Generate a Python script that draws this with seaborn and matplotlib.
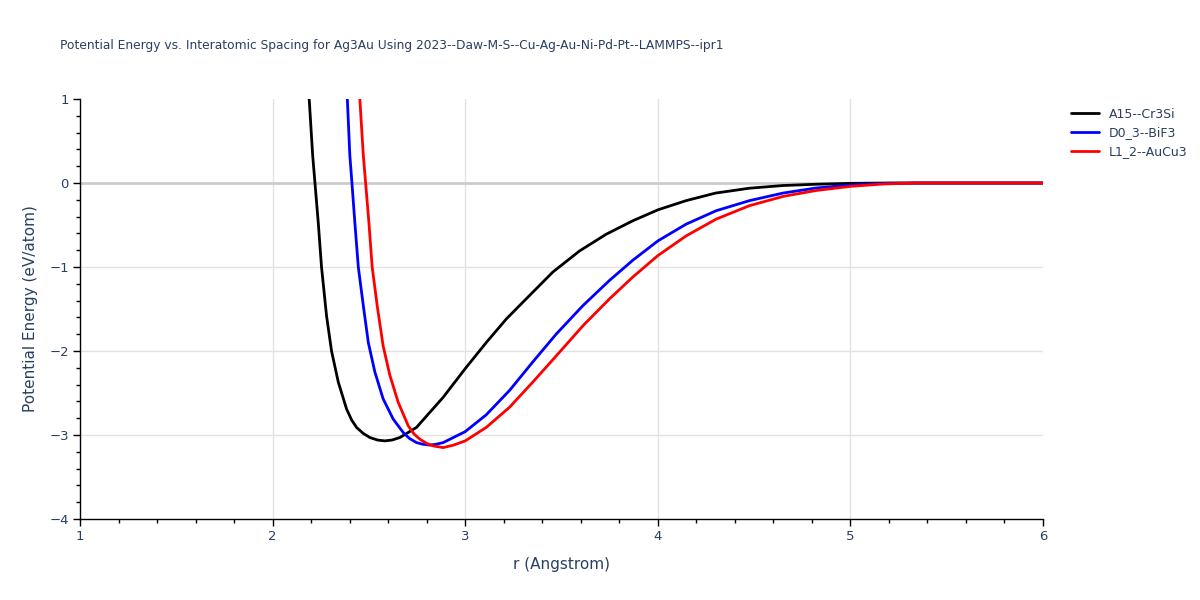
import numpy as np
import pandas as pd
import matplotlib
matplotlib.use("Agg")
import matplotlib.pyplot as plt
from matplotlib.ticker import MultipleLocator
import seaborn as sns

# Curvas (r em Angstrom, energia em eV/atom)
r_a15 = [2.19, 2.208, 2.22, 2.237, 2.254, 2.28, 2.306, 2.341, 2.384, 2.41, 2.436, 2.47, 2.505,
         2.545, 2.583, 2.62, 2.661, 2.747, 2.886, 3.0, 3.109, 3.213, 3.351, 3.455, 3.593,
         3.732, 3.87, 4.0, 4.147, 4.30, 4.476, 4.65, 4.82, 5.0, 5.2, 5.5, 6.0]
e_a15 = [1.0, 0.33, 0.0, -0.47, -1.0, -1.58, -2.0, -2.37, -2.69, -2.82, -2.91, -2.98, -3.03,
         -3.06, -3.07, -3.06, -3.03, -2.91, -2.55, -2.21, -1.90, -1.62, -1.30, -1.06, -0.81,
         -0.61, -0.45, -0.32, -0.21, -0.12, -0.062, -0.03, -0.015, -0.004, 0.0, 0.0, 0.0]

r_d03 = [2.388, 2.401, 2.412, 2.427, 2.445, 2.471, 2.497, 2.531, 2.574, 2.626,
         2.678, 2.71, 2.747, 2.78, 2.817, 2.85, 2.886, 3.0, 3.109, 3.23, 3.351, 3.472, 3.611,
         3.749, 3.87, 4.0, 4.147, 4.303, 4.476, 4.65, 4.82, 5.0, 5.17, 5.35, 5.6, 6.0]
e_d03 = [1.0, 0.33, 0.0, -0.47, -1.0, -1.46, -1.90, -2.25, -2.57, -2.81,
         -2.97, -3.04, -3.09, -3.11, -3.12, -3.11, -3.09, -2.96, -2.76, -2.47, -2.13, -1.80, -1.46,
         -1.16, -0.92, -0.69, -0.49, -0.33, -0.21, -0.12, -0.06, -0.024, -0.005, 0.0, 0.0, 0.0]

r_l12 = [2.453, 2.471, 2.483, 2.50, 2.517, 2.543, 2.574, 2.609, 2.652, 2.704,
         2.735, 2.765, 2.80, 2.834, 2.886, 2.94, 3.0, 3.109, 3.23, 3.351, 3.472, 3.611, 3.749,
         3.87, 4.0, 4.147, 4.303, 4.476, 4.65, 4.82, 5.0, 5.17, 5.34, 5.6, 6.0]
e_l12 = [1.0, 0.33, 0.0, -0.47, -1.0, -1.46, -1.94, -2.29, -2.61, -2.89,
         -2.99, -3.05, -3.10, -3.13, -3.15, -3.12, -3.07, -2.91, -2.67, -2.37, -2.06, -1.70, -1.38,
         -1.12, -0.865, -0.63, -0.43, -0.27, -0.16, -0.09, -0.04, -0.012, 0.0, 0.0, 0.0]

nomes = ["A15--Cr3Si", "D0_3--BiF3", "L1_2--AuCu3"]
cores = ["black", "blue", "red"]

x_ticks = [1, 2, 3, 4, 5, 6]
y_ticks = [-4, -3, -2, -1, 0, 1]
y_labels = ["\u22124", "\u22123", "\u22122", "\u22121", "0", "1"]

df = pd.concat([
    pd.DataFrame({"r": r_a15, "E": e_a15, "estrutura": nomes[0]}),
    pd.DataFrame({"r": r_d03, "E": e_d03, "estrutura": nomes[1]}),
    pd.DataFrame({"r": r_l12, "E": e_l12, "estrutura": nomes[2]}),
])

sns.set_style("white")
plt.rcParams["font.family"] = ["DejaVu Sans"]
texto = "#2a3f5f"

fig = plt.figure(figsize=(12, 6), dpi=100)
ax = fig.add_axes([80 / 1200, 1 - 519 / 600, 963 / 1200, 420 / 600])

# grade manual, sem linhas nas bordas x=6 e y=1
for xv in x_ticks[1:-1]:
    ax.axvline(xv, color="#e2e2e2", lw=1, zorder=0)
for yv in y_ticks[1:-1]:
    if yv != 0:
        ax.axhline(yv, color="#e2e2e2", lw=1, zorder=0)
ax.axhline(0, color="#cccccc", lw=2, zorder=1)

sns.lineplot(data=df, x="r", y="E", hue="estrutura", palette=cores,
             sort=False, estimator=None, lw=2, ax=ax, zorder=3)

ax.set_xlim(1, 6)
ax.set_ylim(-4, 1)
ax.set_xticks(x_ticks)
ax.set_yticks(y_ticks)
ax.set_yticklabels(y_labels)
ax.xaxis.set_minor_locator(MultipleLocator(0.2))
ax.yaxis.set_minor_locator(MultipleLocator(0.2))
ax.grid(False)

for s in ["top", "right"]:
    ax.spines[s].set_visible(False)
for s in ["left", "bottom"]:
    ax.spines[s].set_color("black")
    ax.spines[s].set_linewidth(1)

ax.tick_params(which="both", bottom=True, left=True)
ax.tick_params(which="major", direction="out", length=5, width=1, color="black",
               labelsize=9.5, labelcolor=texto, pad=3)
ax.tick_params(which="minor", direction="out", length=3, width=1, color="black")

ax.set_xlabel("r (Angstrom)", fontsize=11, color=texto, labelpad=10)
ax.set_ylabel("Potential Energy (eV/atom)", fontsize=11, color=texto, labelpad=8)

fig.text(60 / 1200, 1 - 45 / 600,
         "Potential Energy vs. Interatomic Spacing for Ag3Au Using 2023--Daw-M-S--Cu-Ag-Au-Ni-Pd-Pt--LAMMPS--ipr1",
         fontsize=8.8, color=texto, va="center", ha="left")

leg = ax.legend(loc="upper left", bbox_to_anchor=(1.02, 1.0), frameon=False,
                fontsize=9, handlelength=2.2, labelspacing=0.45, borderaxespad=0.3)
for t in leg.get_texts():
    t.set_color(texto)

fig.savefig("out.png", dpi=100)
